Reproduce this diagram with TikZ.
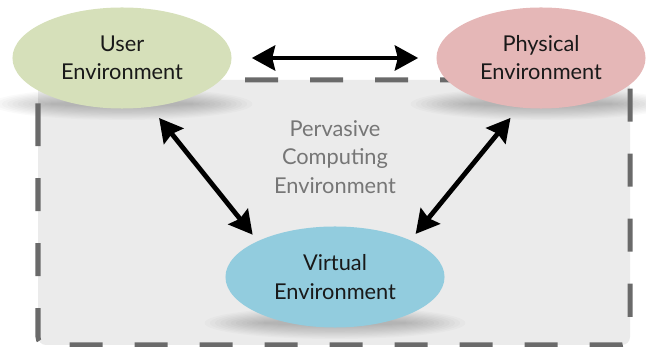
\documentclass[tikz,border=0pt]{standalone}
\usepackage{fontspec}
\setmainfont{Lato}
\usetikzlibrary{shapes.geometric, arrows.meta, backgrounds}

\definecolor{userGreen}{RGB}{214,224,186}
\definecolor{physRed}{RGB}{229,183,183}
\definecolor{virtBlue}{RGB}{146,204,222}
\definecolor{boxGray}{RGB}{235,235,235}
\definecolor{dashGray}{RGB}{106,106,106}
\definecolor{labelGray}{RGB}{118,118,118}

\begin{document}
\begin{tikzpicture}[
		x = 0.025cm, y = -0.025cm,  % one unit per pixel
		every node/.style = {font=\fontsize{15.5}{20}\selectfont, align=center},
		env/.style = {ellipse, inner sep=0pt, minimum height=2.525cm, text=black!90},
		link/.style = {line width=0.12cm, <->},
		>={Stealth[length=0.58cm, width=0.62cm, inset=0.07cm]}
		]
		\useasboundingbox (0,0) rectangle (646,347);

		\node[env, fill=userGreen, minimum width=5.475cm] (User) at (122,58) {User\\Environment};
		\node[env, fill=physRed, minimum width=5.225cm] (Physical) at (541,58) {Physical\\Environment};
		\node[env, fill=virtBlue, minimum width=5.475cm] (Virtual) at (335,277) {Virtual\\Environment};
		\node[text=labelGray, font=\fontsize{15.5}{20.5}\selectfont] (Pervasive) at (335,157) {Pervasive\\Computing\\Environment};

		% links between the environments
		\draw[link, shorten <=0.5cm, shorten >=0.45cm] (User.east) -- (Physical.west);
		\draw[link, shorten <=0.35cm, shorten >=0.2cm] (User.-60) -- (Virtual.155);
		\draw[link, shorten <=0.33cm, shorten >=0.2cm] (Physical.-114) -- (Virtual.26);

		% box and soft shadows behind everything
		\begin{scope}[on background layer]
			\fill[boxGray, rounded corners=0.2cm] (38,80) rectangle (630,345);
			\foreach \n in {User, Physical, Virtual}
				\foreach \i in {1,...,12}
					\fill[black, opacity=0.02] ([yshift=0.12cm]\n.south) ellipse ({1.7cm+0.13cm*\i} and {0.04cm+0.03cm*\i});
			\draw[dashGray, line width=0.125cm, dash pattern=on 0.825cm off 0.8cm, rounded corners=0.2cm]
				(38,105) -- (38,345) -- (630,345) -- (630,80) -- (38,80) -- cycle;
		\end{scope}
	\end{tikzpicture}
\end{document}
